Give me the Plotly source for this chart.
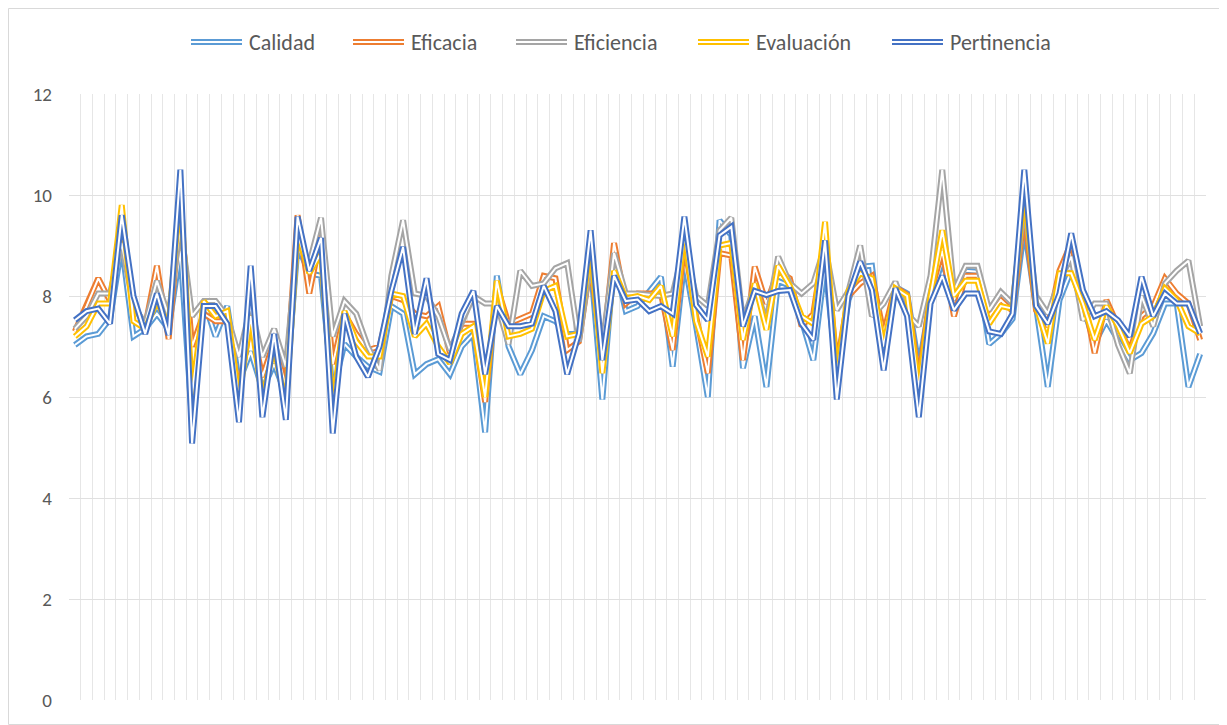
import plotly.graph_objects as go

categories = [str(i) for i in range(1, 98)]

calidad = [7.03, 7.2, 7.25, 7.55, 9.0, 7.2, 7.35, 7.65, 7.35, 8.9,
           5.5, 7.9, 7.2, 7.8, 6.3, 6.9, 6.15, 6.65, 6.05, 9.0,
           8.45, 8.4, 6.1, 7.05, 6.8, 6.6, 6.5, 7.8, 7.65, 6.45,
           6.65, 6.75, 6.45, 7.0, 7.25, 5.3, 8.4, 7.0, 6.45, 6.93,
           7.6, 7.5, 7.25, 7.25, 8.65, 5.95, 8.7, 7.7, 7.8, 8.1,
           8.38, 6.6, 8.7, 7.4, 6.0, 9.5, 9.2, 6.57, 7.6, 6.2,
           8.3, 8.2, 7.52, 6.73, 8.6, 6.47, 7.92, 8.58, 8.6, 6.73,
           8.18, 8.05, 6.6, 7.92, 8.7, 7.92, 8.5, 8.48, 7.05, 7.25,
           7.55, 9.37, 7.8, 6.2, 7.92, 8.5, 7.8, 7.06, 7.52, 7.13,
           6.73, 6.87, 7.26, 7.85, 7.85, 6.2, 6.85]

eficacia = [7.3, 7.8, 8.35, 7.9, 9.4, 7.85, 7.4, 8.6, 7.15, 9.7,
            7.0, 7.65, 7.5, 7.5, 6.1, 7.5, 6.4, 7.1, 6.2, 9.6,
            8.05, 9.2, 6.65, 7.65, 7.25, 6.93, 7.0, 8.0, 7.92, 7.65,
            7.6, 7.8, 6.87, 7.45, 7.45, 5.9, 8.2, 7.45, 7.55, 7.65,
            8.4, 8.35, 6.93, 7.1, 8.65, 6.8, 9.05, 7.85, 8.05, 8.05,
            8.05, 6.93, 9.05, 7.6, 6.47, 8.85, 8.8, 6.73, 8.58, 7.85,
            8.5, 8.35, 7.4, 7.65, 9.17, 6.6, 8.0, 8.25, 8.4, 7.26,
            8.18, 8.02, 6.33, 8.05, 8.9, 7.6, 8.4, 8.4, 7.6, 7.92,
            7.7, 9.65, 7.72, 7.4, 8.5, 9.05, 8.05, 6.87, 7.92, 7.4,
            6.93, 7.6, 7.8, 8.35, 8.05, 7.85, 7.13]

eficiencia = [7.35, 7.6, 8.05, 8.05, 9.05, 7.8, 7.45, 8.3, 7.6, 9.4,
              7.6, 7.9, 7.9, 7.6, 6.8, 7.8, 6.8, 7.35, 6.6, 9.1,
              8.65, 9.55, 7.2, 7.9, 7.65, 7.0, 6.53, 8.4, 9.5, 8.05,
              8.0, 7.6, 6.93, 7.5, 8.0, 7.85, 7.85, 7.05, 8.5, 8.2,
              8.25, 8.55, 8.65, 7.1, 8.7, 7.0, 8.85, 8.05, 8.05, 8.02,
              8.0, 8.05, 9.0, 8.0, 7.8, 9.3, 9.55, 7.5, 8.2, 7.5,
              8.78, 8.25, 8.05, 8.25, 9.0, 7.72, 8.1, 9.0, 7.6, 7.85,
              8.28, 7.65, 7.4, 8.4, 10.5, 8.1, 8.6, 8.6, 7.72, 8.08,
              7.85, 9.85, 8.0, 7.65, 8.3, 8.78, 7.52, 7.85, 7.85, 7.03,
              6.47, 8.0, 7.4, 8.25, 8.5, 8.7, 7.4]

evaluacion = [7.2, 7.4, 7.85, 7.85, 9.8, 7.5, 7.35, 7.9, 7.4, 10.1,
              6.05, 7.9, 7.6, 7.7, 5.95, 7.6, 5.95, 7.0, 5.8, 9.25,
              8.45, 8.85, 5.75, 7.7, 7.1, 6.8, 6.8, 8.05, 8.0, 7.2,
              7.45, 7.0, 6.67, 7.25, 7.4, 6.0, 8.3, 7.2, 7.25, 7.35,
              8.1, 8.2, 7.2, 7.25, 9.0, 6.47, 8.5, 7.95, 8.0, 7.92,
              8.2, 7.2, 9.25, 7.5, 6.8, 9.0, 9.05, 7.13, 8.25, 7.33,
              8.6, 8.2, 7.6, 7.45, 9.47, 6.4, 8.1, 8.45, 8.35, 7.0,
              8.15, 8.0, 6.15, 8.0, 9.3, 8.0, 8.3, 8.3, 7.45, 7.8,
              7.75, 10.1, 7.8, 7.06, 8.45, 8.45, 7.85, 7.13, 7.8, 7.4,
              6.87, 7.45, 7.6, 8.15, 7.92, 7.4, 7.26]

pertinencia = [7.52, 7.7, 7.75, 7.45, 9.6, 8.0, 7.25, 8.05, 7.23, 10.5,
               5.08, 7.8, 7.8, 7.45, 5.5, 8.6, 5.6, 7.25, 5.55, 9.57,
               8.5, 9.15, 5.28, 7.65, 6.8, 6.4, 7.0, 8.1, 8.97, 7.25,
               8.35, 6.85, 6.73, 7.65, 8.1, 6.45, 7.8, 7.4, 7.4, 7.45,
               8.2, 7.7, 6.45, 7.25, 9.3, 6.73, 8.4, 7.9, 7.93, 7.7,
               7.8, 7.65, 9.57, 7.82, 7.52, 9.2, 9.37, 7.4, 8.1, 8.02,
               8.1, 8.12, 7.45, 7.13, 9.1, 5.95, 8.0, 8.68, 8.12, 6.53,
               8.15, 7.6, 5.6, 7.85, 8.4, 7.72, 8.05, 8.05, 7.3, 7.25,
               7.65, 10.5, 7.8, 7.45, 8.05, 9.24, 8.12, 7.6, 7.7, 7.52,
               7.2, 8.38, 7.6, 8.05, 7.85, 7.85, 7.26]

series_names = ["Calidad", "Eficacia", "Eficiencia", "Evaluación", "Pertinencia"]
series_values = [calidad, eficacia, eficiencia, evaluacion, pertinencia]
series_colors = ["#5B9BD5", "#ED7D31", "#A5A5A5", "#FFC000", "#4472C4"]
y_ticks = [0, 2, 4, 6, 8, 10, 12]

FONT = "Carlito, Calibri, Lato, sans-serif"
OUTER_W = 6.0
INNER_W = 2.0

# plot-area geometry (figure pixels); page has an 8px body margin
PL, PT, PW, PH = 61, 86, 1137, 606
FIG_W, FIG_H = 1219, 717


def px_to_paper_x(px):
    return (px - PL) / PW


def px_to_paper_y(py):
    return (PT + PH - py) / PH


fig = go.Figure()
for name, vals, col in zip(series_names, series_values, series_colors):
    fig.add_trace(go.Scatter(
        x=categories, y=vals, mode="lines", name=name,
        line=dict(color=col, width=OUTER_W), legendgroup=name,
        showlegend=False, hoverinfo="x+y+name"))
    fig.add_trace(go.Scatter(
        x=categories, y=vals, mode="lines", name=name,
        line=dict(color="white", width=INNER_W), legendgroup=name,
        showlegend=False, hoverinfo="skip"))

# legend drawn as double-line keys + text (Excel compound-line look)
legend_sym_x = [183, 345, 508, 690, 884]   # figure px, left end of key
legend_sym_len = 51
legend_y_px = 34
shapes = []
annotations = []
ly = px_to_paper_y(legend_y_px)
for name, col, sx in zip(series_names, series_colors, legend_sym_x):
    x0 = px_to_paper_x(sx)
    x1 = px_to_paper_x(sx + legend_sym_len)
    shapes.append(dict(type="line", xref="paper", yref="paper",
                       x0=x0, x1=x1, y0=ly, y1=ly,
                       line=dict(color=col, width=OUTER_W)))
    shapes.append(dict(type="line", xref="paper", yref="paper",
                       x0=x0, x1=x1, y0=ly, y1=ly,
                       line=dict(color="white", width=INNER_W)))
    annotations.append(dict(text=name, xref="paper", yref="paper",
                            x=px_to_paper_x(sx + legend_sym_len + 5), y=ly,
                            xanchor="left", yanchor="middle", showarrow=False,
                            font=dict(size=22, color="#595959", family=FONT)))

# chart-area border
shapes.append(dict(type="rect", xref="paper", yref="paper",
                   x0=px_to_paper_x(0.5), x1=px_to_paper_x(FIG_W - 0.5),
                   y0=px_to_paper_y(FIG_H - 0.5), y1=px_to_paper_y(0.5),
                   line=dict(color="#D9D9D9", width=1), layer="below"))

fig.update_layout(
    width=FIG_W, height=FIG_H,
    margin=dict(l=PL, r=FIG_W - PL - PW, t=PT, b=FIG_H - PT - PH),
    paper_bgcolor="white", plot_bgcolor="white",
    font=dict(family=FONT, color="#595959", size=18),
    showlegend=False,
    xaxis=dict(type="category", tickson="boundaries",
               tickmode="linear", tick0=0, dtick=1,
               range=[-0.5, len(categories) - 0.5],
               showgrid=True, gridcolor="#E6E6E6", gridwidth=1,
               showticklabels=False, ticks="", showline=False,
               zeroline=False, fixedrange=True),
    yaxis=dict(range=[0, 12], tickvals=y_ticks,
               ticktext=[str(v) for v in y_ticks],
               showgrid=True, gridcolor="#E0E0E0", gridwidth=1,
               zeroline=False, showline=False, ticks="",
               ticklabelstandoff=16,
               tickfont=dict(size=19, color="#595959", family=FONT)),
    shapes=shapes,
    annotations=annotations,
)

fig.write_html("out.html")
